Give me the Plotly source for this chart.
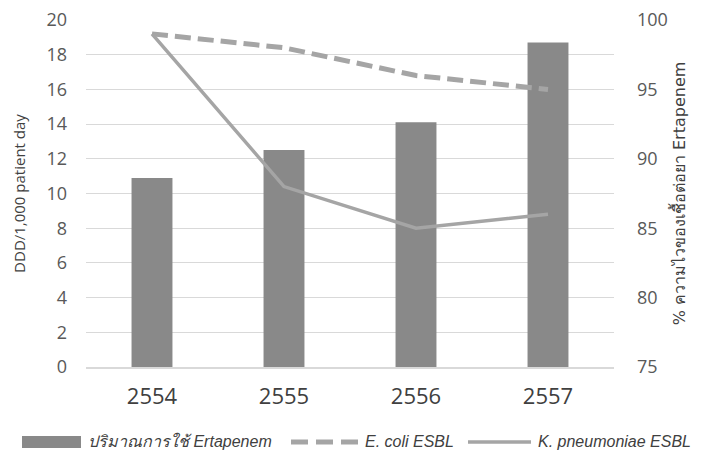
import plotly.graph_objects as go

years = ["2554", "2555", "2556", "2557"]
ertapenem_ddd = [10.9, 12.5, 14.1, 18.7]
ecoli_susceptible = [99, 98, 96, 95]
kpneu_susceptible = [99, 88, 85, 86]

left_ticks = list(range(0, 21, 2))
right_ticks = list(range(75, 101, 5))

BAR_NAME = "ปริมาณการใช้ Ertapenem"
ECOLI_NAME = "E. coli ESBL"
KPNEU_NAME = "K. pneumoniae ESBL"

BAR_COLOR = "#898989"
LINE_COLOR = "#A5A5A5"
ECOLI_DASH = "16px,7px"

W, H = 703, 451
M_L, M_R, M_T, M_B = 86, 89, 20, 84
PW, PH = W - M_L - M_R, H - M_T - M_B

base_font = "Open Sans, Noto Sans, sans-serif"
tick_font = dict(family=base_font, size=18, color="#595959")

fig = go.Figure()
fig.add_trace(go.Bar(
    x=years, y=ertapenem_ddd, name=BAR_NAME,
    marker=dict(color=BAR_COLOR, line=dict(width=0)), width=0.31, yaxis="y",
))
fig.add_trace(go.Scatter(
    x=years, y=ecoli_susceptible, name=ECOLI_NAME, mode="lines",
    line=dict(color=LINE_COLOR, width=5, dash=ECOLI_DASH), yaxis="y2",
))
fig.add_trace(go.Scatter(
    x=years, y=kpneu_susceptible, name=KPNEU_NAME, mode="lines",
    line=dict(color=LINE_COLOR, width=3.5), yaxis="y2",
))


def px_x(px):
    return (px - M_L) / PW


def px_y(py):
    return (H - M_B - py) / PH


# Legend row drawn below the plot
leg_y = 441
leg_font = dict(family="Liberation Sans, Arial, sans-serif", size=16, color="#404040")
shapes = [
    dict(type="rect", xref="paper", yref="paper",
         x0=px_x(22), x1=px_x(81), y0=px_y(448), y1=px_y(436),
         fillcolor=BAR_COLOR, line=dict(width=0)),
    dict(type="line", xref="paper", yref="paper",
         x0=px_x(291), x1=px_x(358), y0=px_y(leg_y + 1), y1=px_y(leg_y + 1),
         line=dict(color=LINE_COLOR, width=5, dash="17px,8px")),
    dict(type="line", xref="paper", yref="paper",
         x0=px_x(468), x1=px_x(531), y0=px_y(leg_y + 1), y1=px_y(leg_y + 1),
         line=dict(color=LINE_COLOR, width=3.5)),
]
annotations = [
    dict(text=f"<i>{BAR_NAME}</i>", x=px_x(87), y=px_y(leg_y)),
    dict(text=f"<i>{ECOLI_NAME}</i>", x=px_x(364), y=px_y(leg_y)),
    dict(text=f"<i>{KPNEU_NAME}</i>", x=px_x(537), y=px_y(leg_y)),
]
for a in annotations:
    a.update(xref="paper", yref="paper", xanchor="left", yanchor="middle",
             showarrow=False, font=leg_font, borderpad=0)

fig.update_layout(
    width=W, height=H,
    margin=dict(l=M_L, r=M_R, t=M_T, b=M_B),
    plot_bgcolor="white", paper_bgcolor="white",
    showlegend=False,
    shapes=shapes, annotations=annotations,
    xaxis=dict(
        type="category", showgrid=False, showline=True, linecolor="#D9D9D9", linewidth=1.5,
        ticks="", tickfont=dict(family=base_font, size=22, color="#404040"),
        ticklabelstandoff=9, automargin=False,
    ),
    yaxis=dict(
        range=[0, 20], tickvals=left_ticks, showgrid=True, gridcolor="#D9D9D9", gridwidth=1.3,
        zeroline=False, showline=False, ticks="", tickfont=tick_font, ticklabelstandoff=18,
        automargin=False,
        title=dict(text="DDD/1,000 patient day",
                   font=dict(family=base_font, size=15, color="#404040"), standoff=17),
    ),
    yaxis2=dict(
        range=[75, 100], tickvals=right_ticks, overlaying="y", side="right",
        showgrid=False, zeroline=False, showline=False, ticks="", tickfont=tick_font,
        ticklabelstandoff=22, automargin=False,
        title=dict(text="% ความไวของเชื้อต่อยา Ertapenem",
                   font=dict(family="DejaVu Sans, sans-serif", size=16, color="#404040"),
                   standoff=6),
    ),
)

fig.write_html("out.html")
